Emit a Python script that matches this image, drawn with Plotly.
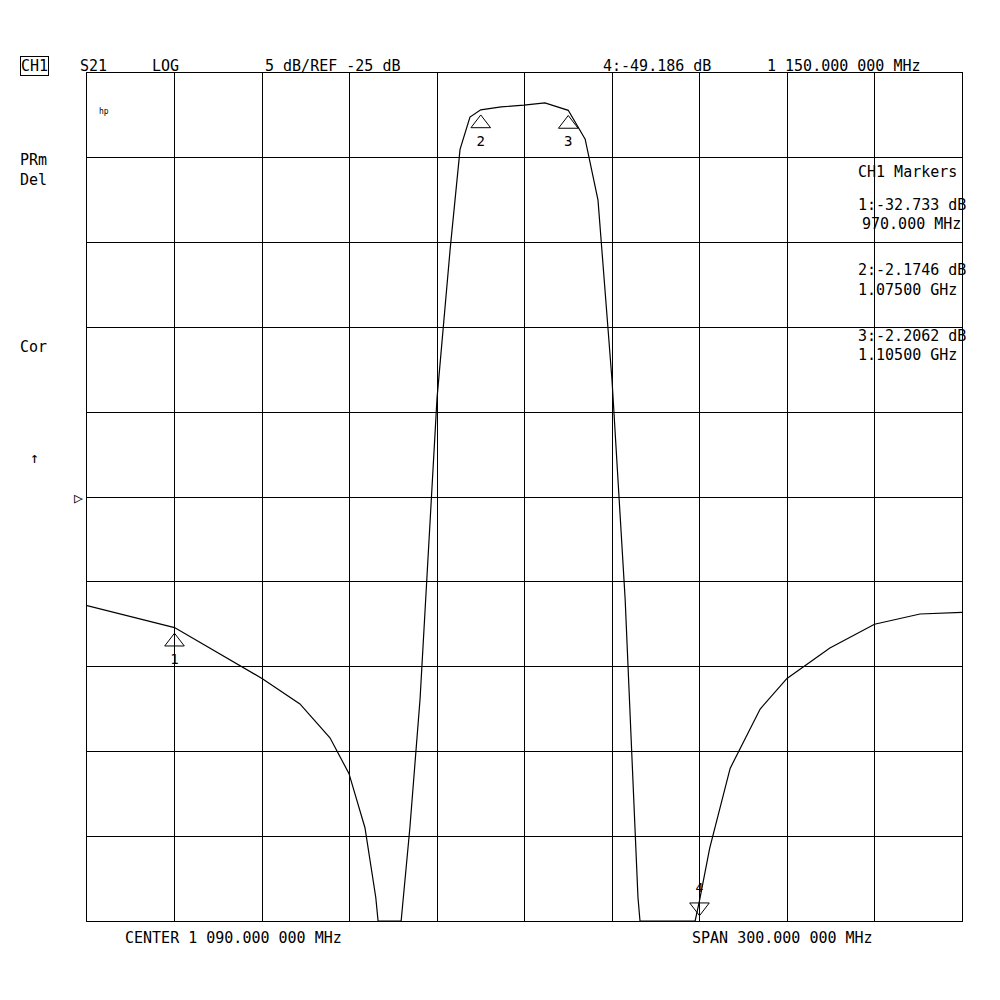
import plotly.graph_objects as go

freq_mhz = [940, 970, 1000, 1013, 1023.3, 1029.8, 1035.3, 1039, 1039.8, 1047.7, 1050.7, 1054.2, 1060,
            1064.5, 1067.9, 1071.3, 1075, 1082, 1089.8, 1097, 1105, 1110.8, 1115.2, 1120, 1124.5, 1128.9,
            1129.6, 1148.5, 1150, 1153.5, 1160.5, 1170.8, 1180, 1194.7, 1210, 1225.6, 1240]
s21_db = [-31.4, -32.7, -35.7, -37.2, -39.2, -41.3, -44.5, -48.6, -50, -50, -44.5, -36.9, -19.2,
          -10.4, -4.5, -2.6, -2.17, -2.0, -1.9, -1.76, -2.2, -3.9, -7.5, -18.1, -31, -48.6,
          -50, -50, -48.8, -45.7, -41, -37.5, -35.7, -33.9, -32.5, -31.9, -31.8]
marker_ids = ["1", "2", "3", "4"]
marker_f = [970, 1075, 1105, 1150]
marker_db = [-32.733, -2.1746, -2.2062, -49.186]

L, R, T, B = 87, 962, 73, 921
OFF = 8
def px(x, y):
    return (x - L) / (R - L), (B - y) / (B - T)

FONT = "DejaVu Sans Mono"
fig = go.Figure()
fig.add_trace(go.Scatter(x=freq_mhz, y=s21_db, mode="lines",
                         line=dict(color="black", width=1.2), hoverinfo="skip"))
up_y = [d - 0.8 for d in marker_db[:3]]
fig.add_trace(go.Scatter(x=marker_f[:3], y=up_y, mode="markers+text",
                         marker=dict(symbol="triangle-up-open", size=17, color="black", line=dict(width=1)),
                         text=marker_ids[:3], textposition="bottom center",
                         textfont=dict(family=FONT, size=14, color="black")))
fig.add_trace(go.Scatter(x=[marker_f[3]], y=[marker_db[3]], mode="markers+text",
                         marker=dict(symbol="triangle-down-open", size=17, color="black", line=dict(width=1)),
                         text=[marker_ids[3]], textposition="top center",
                         textfont=dict(family=FONT, size=13, color="black")))

texts = [
    ("CH1", 20, 66), ("S21", 80, 66), ("LOG", 152, 66),
    ("5 dB/REF -25 dB", 265, 66), ("4:-49.186 dB", 603, 66),
    ("1 150.000 000 MHz", 767, 66),
    ("PRm", 20, 160), ("Del", 20, 180), ("Cor", 20, 347),
    ("↑", 30, 458), ("▷", 74, 498),
    ("CH1 Markers", 858, 172),
    ("1:-32.733 dB", 858, 205), ("970.000 MHz", 862, 224),
    ("2:-2.1746 dB", 858, 270), ("1.07500 GHz", 858, 290),
    ("3:-2.2062 dB", 858, 336), ("1.10500 GHz", 858, 355),
    ("CENTER 1 090.000 000 MHz", 125, 938), ("SPAN 300.000 000 MHz", 692, 938),
]
ann = []
for t, x, y in texts:
    xp, yp = px(x, y)
    ann.append(dict(text=t, x=xp, y=yp, xref="paper", yref="paper", xanchor="left", yanchor="middle",
                    showarrow=False, font=dict(family=FONT, size=15, color="black"),
                    bordercolor="black" if t == "CH1" else None, borderwidth=1 if t == "CH1" else 0,
                    borderpad=0))
xp, yp = px(97, 105)
ann.append(dict(text="hp", x=xp, y=yp, xref="paper", yref="paper", xanchor="left", showarrow=False,
                font=dict(family=FONT, size=8, color="black")))

fig.update_layout(
    width=1000, height=1000, paper_bgcolor="white", plot_bgcolor="white",
    margin=dict(l=L - OFF, r=1000 - R + OFF, t=T - OFF, b=1000 - B + OFF), showlegend=False, annotations=ann,
    xaxis=dict(range=[940, 1240], dtick=30, tick0=940, showgrid=True, gridcolor="black", gridwidth=1,
               showticklabels=False, zeroline=False, showline=True, linecolor="black", mirror=True, ticks=""),
    yaxis=dict(range=[-50, 0], dtick=5, showgrid=True, gridcolor="black", gridwidth=1,
               showticklabels=False, zeroline=False, showline=True, linecolor="black", mirror=True, ticks=""),
)
fig.write_html("out.html")
